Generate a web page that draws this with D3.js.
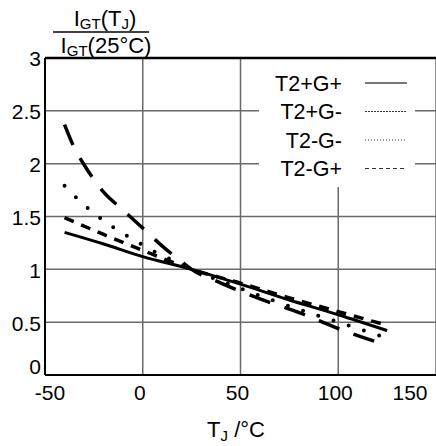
<!DOCTYPE html>
<html>
<head>
<meta charset="utf-8">
<script src="https://cdn.jsdelivr.net/npm/d3@7"></script>
<style>
  body { margin: 0; background: #fff; }
  svg { display: block; font-family: "Liberation Sans", Arial, sans-serif; }
</style>
</head>
<body>
<script>
// junction temperature samples (deg C) and normalized trigger current IGT(Tj)/IGT(25C)
var t2pG_pos = { name: 'T2+G+', temps: [-40, -20, 0, 25, 50, 75, 100, 125], vals: [1.35, 1.24, 1.12, 1.0, 0.86, 0.71, 0.57, 0.42] };
var t2pG_neg = { name: 'T2+G-', temps: [-40, -35, -30, -25, -20, -10, 0, 10, 20, 25, 40, 60, 80, 100, 125], vals: [2.37, 2.15, 1.99, 1.85, 1.73, 1.56, 1.39, 1.22, 1.07, 1.0, 0.87, 0.72, 0.59, 0.44, 0.28] };
var t2nG_neg = { name: 'T2-G-', temps: [-40, -30, -20, -10, 0, 10, 20, 25, 40, 60, 80, 100, 125], vals: [1.79, 1.61, 1.46, 1.34, 1.23, 1.13, 1.05, 1.0, 0.89, 0.75, 0.62, 0.5, 0.35] };
var t2nG_pos = { name: 'T2-G+', temps: [-40, -20, 0, 25, 50, 75, 100, 125], vals: [1.49, 1.33, 1.18, 1.0, 0.87, 0.73, 0.6, 0.47] };

var xTicks = [-50, 0, 50, 100, 150];
var yTicks = [0, 0.5, 1, 1.5, 2, 2.5, 3];

var W = 436, H = 446;
var mLeft = 45, mRight = 436, mTop = 58, mBottom = 375;

var svg = d3.select('body').append('svg').attr('width', W).attr('height', H);

var x = d3.scaleLinear().domain([-50, 150]).range([mLeft, mRight]);
var y = d3.scaleLinear().domain([0, 3]).range([mBottom, mTop]);

// grid
var grid = svg.append('g').attr('stroke', '#6a6a6a').attr('stroke-width', 1.5);
grid.selectAll('.gx').data(xTicks.slice(1)).enter().append('line')
  .attr('x1', function (d) { return x(d); }).attr('x2', function (d) { return x(d); })
  .attr('y1', mTop).attr('y2', mBottom);
grid.selectAll('.gy').data(yTicks.slice(1, -1)).enter().append('line')
  .attr('y1', function (d) { return y(d); }).attr('y2', function (d) { return y(d); })
  .attr('x1', mLeft).attr('x2', mRight);

// legend background hides grid
svg.append('rect').attr('x', 259).attr('y', mTop + 1).attr('width', 156).attr('height', 128).attr('fill', '#fff');

// axes frame
svg.append('line').attr('x1', mLeft).attr('x2', mRight).attr('y1', mTop).attr('y2', mTop).attr('stroke', '#000').attr('stroke-width', 2.5);
svg.append('line').attr('x1', mLeft).attr('x2', mLeft).attr('y1', mTop).attr('y2', mBottom).attr('stroke', '#000').attr('stroke-width', 2);
svg.append('line').attr('x1', mLeft).attr('x2', mRight).attr('y1', mBottom).attr('y2', mBottom).attr('stroke', '#000').attr('stroke-width', 2);

// tick labels
svg.selectAll('.xl').data(xTicks).enter().append('text')
  .attr('x', function (d, i) { return i === 0 ? x(d) + 5 : i === xTicks.length - 1 ? x(d) - 26 : x(d) - 3; })
  .attr('y', 400)
  .attr('text-anchor', 'middle')
  .attr('font-size', 21)
  .text(function (d) { return d; });

svg.selectAll('.yl').data(yTicks).enter().append('text')
  .attr('x', 41)
  .attr('y', function (d) { return y(d); })
  .attr('dy', function (d) { return d === 0 ? '-0.05em' : '0.4em'; })
  .attr('text-anchor', 'end')
  .attr('font-size', 21)
  .text(function (d) { return d; });

// axis titles
var xt = svg.append('text').attr('x', 236).attr('y', 437).attr('text-anchor', 'middle').attr('font-size', 22);
xt.append('tspan').text('T');
xt.append('tspan').attr('font-size', 15).attr('dy', 4).text('J');
xt.append('tspan').attr('dy', -4).text(' /°C');

var num = svg.append('text').attr('x', 105).attr('y', 26).attr('text-anchor', 'middle').attr('font-size', 22);
num.append('tspan').text('I');
num.append('tspan').attr('font-size', 15).attr('dy', 3).text('GT');
num.append('tspan').attr('dy', -3).text('(T');
num.append('tspan').attr('font-size', 15).attr('dy', 3).text('J');
num.append('tspan').attr('dy', -3).text(')');

svg.append('line').attr('x1', 53).attr('x2', 149).attr('y1', 32).attr('y2', 32).attr('stroke', '#000').attr('stroke-width', 1.5);

var den = svg.append('text').attr('x', 106).attr('y', 53).attr('text-anchor', 'middle').attr('font-size', 22);
den.append('tspan').text('I');
den.append('tspan').attr('font-size', 15).attr('dy', 3).text('GT');
den.append('tspan').attr('dy', -3).text('(25°C)');

// curves
var line = d3.line()
  .x(function (d) { return x(d[0]); })
  .y(function (d) { return y(d[1]); })
  .curve(d3.curveMonotoneX);

var series = [
  { s: t2pG_pos, dash: null, cap: 'butt', w: 3 },
  { s: t2nG_pos, dash: '10,8', cap: 'butt', w: 3.5 },
  { s: t2pG_neg, dash: '22,15', cap: 'butt', w: 3.5 },
  { s: t2nG_neg, dash: '0,16', cap: 'round', w: 4 }
];

series.forEach(function (o) {
  var pts = o.s.temps.map(function (t, i) { return [t, o.s.vals[i]]; });
  svg.append('path').datum(pts)
    .attr('d', line)
    .attr('fill', 'none')
    .attr('stroke', '#000')
    .attr('stroke-width', o.w)
    .attr('stroke-linecap', o.cap)
    .attr('stroke-dasharray', o.dash);
});

// legend
var legend = [
  { name: 'T2+G+', dash: null },
  { name: 'T2+G-', dash: '2,1' },
  { name: 'T2-G-', dash: '1,2' },
  { name: 'T2-G+', dash: '4,3' }
];
var lg = svg.selectAll('.lg').data(legend).enter().append('g')
  .attr('transform', function (d, i) { return 'translate(0,' + (83 + i * 28.5) + ')'; });
lg.append('text').attr('x', 342).attr('dy', '0.35em').attr('text-anchor', 'end').attr('font-size', 21.5)
  .text(function (d) { return d.name; });
lg.append('line').attr('x1', 365).attr('x2', 407).attr('y1', 0).attr('y2', 0)
  .attr('stroke', function (d, i) { return i === 0 ? '#777' : '#333'; })
  .attr('stroke-width', function (d, i) { return i === 0 ? 2 : 1; })
  .attr('stroke-dasharray', function (d) { return d.dash; });
</script>
</body>
</html>
